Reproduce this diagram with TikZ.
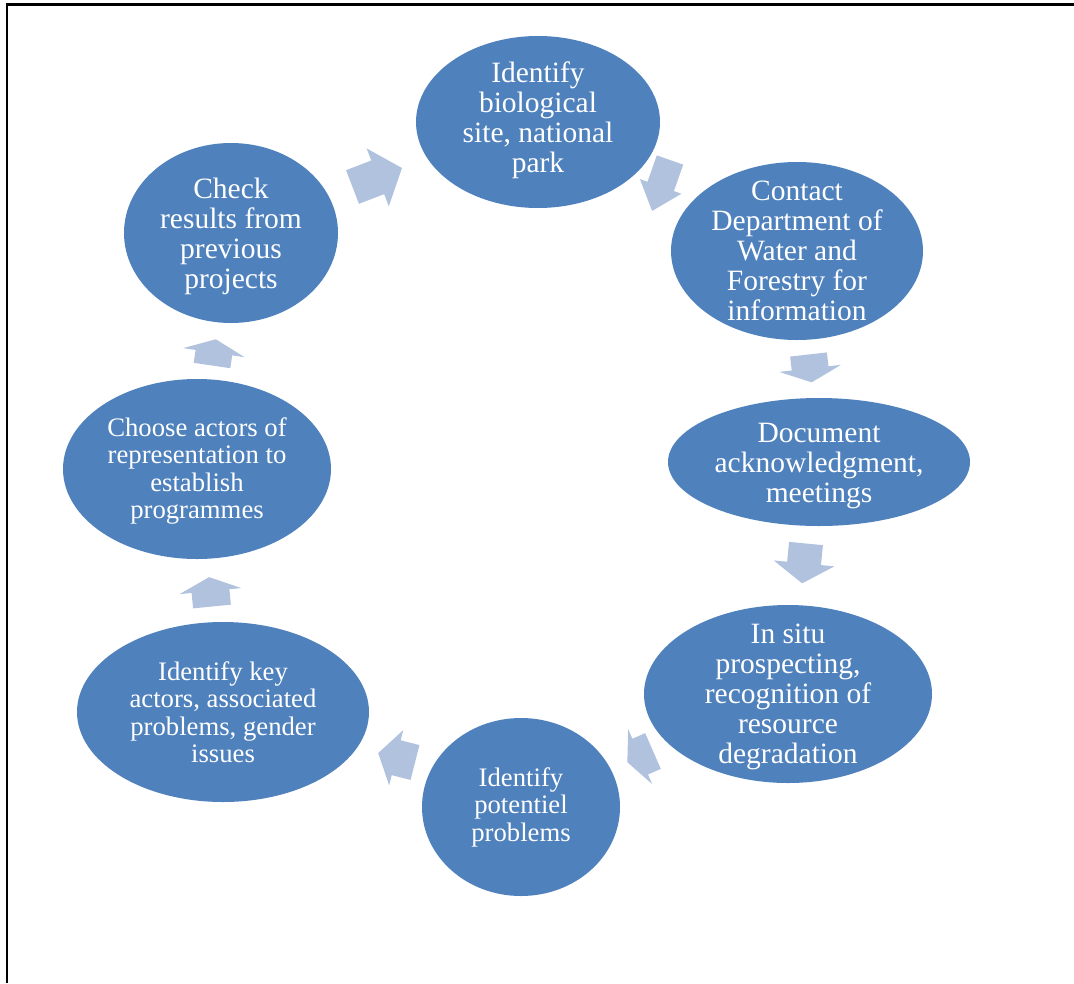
\documentclass[tikz,border=0pt]{standalone}
\usepackage{fontspec}
\setmainfont{Liberation Serif}
\usetikzlibrary{shapes.geometric}
\definecolor{blobblue}{HTML}{4F81BD}
\definecolor{arrowblue}{HTML}{B1C2DE}
\tikzset{
  blob/.style={ellipse, fill=blobblue, draw=none, inner sep=0pt},
  bigtxt/.style={text=white, align=center, inner sep=0pt, font=\fontsize{29.5}{30}\selectfont},
  smalltxt/.style={text=white, align=center, inner sep=0pt, font=\fontsize{26.7}{27.5}\selectfont},
  arrowfill/.style={fill=arrowblue, draw=none},
  frame/.style={line width=2.5pt, black}
}
% #1 tail point, #2 angle, #3 body length, #4 head length, #5 body width, #6 head width
\newcommand\cyclearrow[6]{%
  \fill[arrowfill, shift={#1}, rotate=#2]
    (0,-#5/2) -- (#3,-#5/2) -- (#3,-#6/2) -- (#3+#4,0) -- (#3,#6/2) -- (#3,#5/2) -- (0,#5/2) -- cycle;}
\begin{document}
\begin{tikzpicture}[x=1pt,y=1pt]
\useasboundingbox (0,0) rectangle (1074,-983);
% frame (top and left only)
\coordinate (fa) at (7,-983);
\coordinate (fb) at (7,-4.5);
\coordinate (fc) at (1074,-4.5);
\draw[frame] (fa) -- (fb) -- (fc);
% ellipses
\node[blob, minimum width=244pt, minimum height=172pt] (n1) at (538,-122) {};
\node[blob, minimum width=252pt, minimum height=178pt] (n2) at (797,-251) {};
\node[blob, minimum width=302pt, minimum height=128pt] (n3) at (819,-462) {};
\node[blob, minimum width=288pt, minimum height=178pt] (n4) at (788,-694) {};
\node[blob, minimum width=198pt, minimum height=178pt] (n5) at (521,-807) {};
\node[blob, minimum width=292pt, minimum height=180pt] (n6) at (223,-712) {};
\node[blob, minimum width=268pt, minimum height=180pt] (n7) at (197,-469) {};
\node[blob, minimum width=214pt, minimum height=180pt] (n8) at (231,-233) {};
% texts
\node[bigtxt] (t1) at ([yshift=2pt]n1) {Identify\\biological\\site, national\\park};
\node[bigtxt] (t2) at (n2) {Contact\\Department of\\Water and\\Forestry for\\information};
\node[bigtxt] (t3) at ([yshift=-4pt]n3) {Document\\acknowledgment,\\meetings};
\node[bigtxt] (t4) at ([yshift=-3pt]n4) {In situ\\prospecting,\\recognition of\\resource\\degradation};
\node[smalltxt] (t5) at (n5) {Identify\\potentiel\\problems};
\node[smalltxt] (t6) at (n6) {Identify key\\actors, associated\\problems, gender\\issues};
\node[smalltxt] (t7) at ([yshift=-2pt]n7) {Choose actors of\\representation to\\establish\\programmes};
\node[bigtxt] (t8) at ([yshift=-3pt]n8) {Check\\results from\\previous\\projects};
% block arrows
\cyclearrow{(352.5,-187)}{21}{27}{26}{36}{62}
\cyclearrow{(670,-160)}{-109.4}{28}{26}{28}{44}
\cyclearrow{(808.5,-354.5)}{-83.5}{14}{14}{37}{62}
\cyclearrow{(806,-543.5)}{-95.6}{20}{20}{34}{61}
\cyclearrow{(653,-751)}{203.6}{14}{14}{39}{60}
\cyclearrow{(415,-762.5)}{165.7}{19.4}{18.6}{36}{57}
\cyclearrow{(212,-606.5)}{95.6}{15.5}{14}{38}{62}
\cyclearrow{(212,-365.5)}{81.6}{13}{13.5}{37}{62}
\end{tikzpicture}
\end{document}
